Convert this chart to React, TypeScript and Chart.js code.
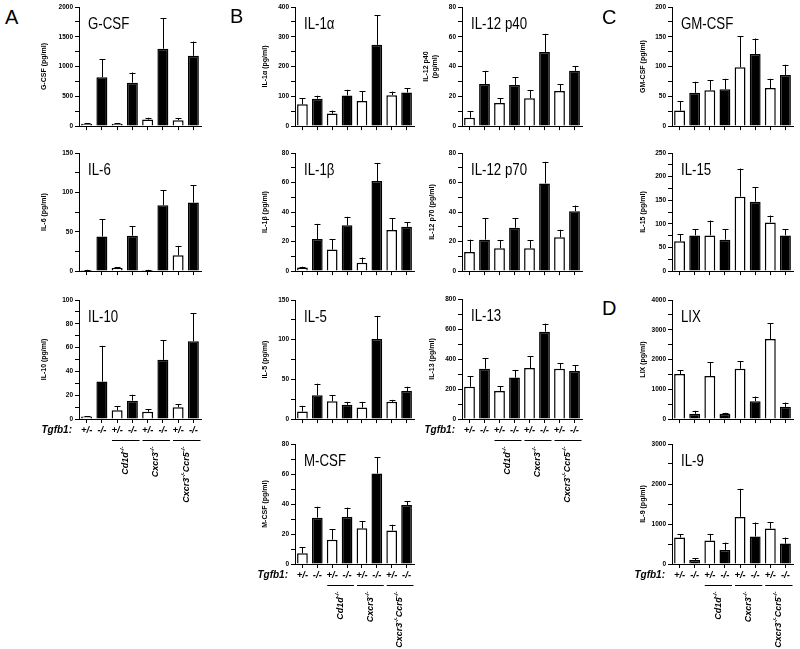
import React, { useEffect, useRef } from 'react';
import { Chart, registerables } from 'chart.js';

Chart.register(...registerables);

const FONT = "'Liberation Sans', Arial, Helvetica, sans-serif";
Chart.defaults.font.family = FONT;
Chart.defaults.color = '#000';

// ---------- data ----------
const genotypeLabels = ['+/-', '-/-', '+/-', '-/-', '+/-', '-/-', '+/-', '-/-'];
const groupStartIndex = [2, 4, 6];
const groupLabelParts: [string, boolean][][] = [
  [['Cd1d', false], ['-/-', true]],
  [['Cxcr3', false], ['-/-', true]],
  [['Cxcr3', false], ['-/-', true], ['Ccr5', false], ['-/-', true]],
];

const gcsfValues = [40, 820, 40, 730, 110, 1300, 100, 1180];
const gcsfErrors = [5, 300, 5, 170, 30, 510, 28, 240];
const il6Values = [1.5, 44, 4, 45, 1.5, 83.5, 20, 87];
const il6Errors = [0.3, 22, 1, 12, 0.3, 19.5, 12, 22];
const il10Values = [2, 31.5, 7.3, 15.4, 6.1, 49.7, 9.8, 65.4];
const il10Errors = [0.3, 30, 3.3, 5, 2.3, 16.3, 2.8, 23.4];
const il1aValues = [73, 92, 42, 103, 84, 273, 104, 113];
const il1aErrors = [20, 10, 10, 19, 33, 100, 12, 15];
const il1bValues = [2.5, 21.7, 14.6, 31, 5.6, 61, 27.8, 30];
const il1bErrors = [0.5, 10.3, 7.1, 5.8, 3.6, 12.3, 8.1, 3];
const il5Values = [9.6, 30, 22.5, 18, 14.6, 100.8, 21.7, 35.4];
const il5Errors = [7.1, 14.6, 7.9, 3.7, 7.1, 29.2, 2.5, 5.4];
const mcsfValues = [7.1, 30.9, 16.2, 31.3, 23.8, 60.4, 22.4, 39.3];
const mcsfErrors = [4, 7.3, 7.1, 6.3, 4.9, 10.9, 3.8, 2.7];
const il12p40Values = [5.6, 28.2, 15.6, 27.6, 18.7, 49.8, 23.6, 37.1];
const il12p40Errors = [4.4, 8.9, 3.1, 5.1, 5.3, 12.2, 4.6, 3.3];
const il12p70Values = [13, 21.3, 15.5, 29.4, 15.5, 59.4, 22.9, 40.6];
const il12p70Errors = [8.3, 14.6, 5.6, 6.5, 5.6, 14.6, 5.1, 3.8];
const il13Values = [215, 335, 187, 276, 340, 582, 335, 320];
const il13Errors = [69, 69, 31, 51, 78, 54, 38, 40];
const gmcsfValues = [26, 56, 60, 61.7, 98.9, 121, 63.9, 86];
const gmcsfErrors = [15.7, 18.4, 17.2, 17.7, 52, 26, 15.5, 17];
const il15Values = [63, 75.6, 75.6, 66.5, 157.6, 147, 103, 75.6];
const il15Errors = [15.4, 13.4, 31.4, 22.5, 59.4, 30, 14.6, 13.4];
const lixValues = [1511, 178, 1444, 178, 1689, 600, 2689, 411];
const lixErrors = [133, 100, 467, 33, 255, 156, 533, 145];
const il9Values = [660, 100, 585, 351, 1178, 685, 886, 510];
const il9Errors = [84, 42, 167, 184, 702, 351, 158, 150];

// ---------- layout ----------
type PanelCfg = {
  name: string;
  yTitle: string | string[];
  values: number[];
  errors: number[];
  max: number;
  major: number;
  minor: number;
  L: number;
  R: number;
  T: number;
  B: number;
  bottom: boolean;
  titlePad: number;
};

const colA = { L: 79, R: 201, titlePad: 1 };
const colB1 = { L: 295, R: 414, titlePad: 5.5 };
const colB2 = { L: 462, R: 582, titlePad: 5.5 };
const colC = { L: 672, R: 793, titlePad: 7 };
const row1 = { T: 7, B: 127 };
const row2 = { T: 153, B: 272 };
const row3 = { T: 300, B: 420 };
const row4 = { T: 444, B: 564 };

const panels: PanelCfg[] = [
  { name: 'G-CSF', yTitle: 'G-CSF (pg/ml)', values: gcsfValues, errors: gcsfErrors, max: 2000, major: 500, minor: 250, ...colA, ...row1, bottom: false },
  { name: 'IL-6', yTitle: 'IL-6 (pg/ml)', values: il6Values, errors: il6Errors, max: 150, major: 50, minor: 25, ...colA, ...row2, bottom: false },
  { name: 'IL-10', yTitle: 'IL-10 (pg/ml)', values: il10Values, errors: il10Errors, max: 100, major: 20, minor: 10, ...colA, T: 300, B: 419, bottom: true },
  { name: 'IL-1α', yTitle: 'IL-1α (pg/ml)', values: il1aValues, errors: il1aErrors, max: 400, major: 100, minor: 50, ...colB1, ...row1, bottom: false },
  { name: 'IL-1β', yTitle: 'IL-1β (pg/ml)', values: il1bValues, errors: il1bErrors, max: 80, major: 20, minor: 10, ...colB1, ...row2, bottom: false },
  { name: 'IL-5', yTitle: 'IL-5 (pg/ml)', values: il5Values, errors: il5Errors, max: 150, major: 50, minor: 25, ...colB1, ...row3, bottom: false },
  { name: 'M-CSF', yTitle: 'M-CSF (pg/ml)', values: mcsfValues, errors: mcsfErrors, max: 80, major: 20, minor: 10, ...colB1, ...row4, bottom: true },
  { name: 'IL-12 p40', yTitle: ['IL-12 p40', '(pg/ml)'], values: il12p40Values, errors: il12p40Errors, max: 80, major: 20, minor: 10, ...colB2, ...row1, bottom: false, titlePad: 0 },
  { name: 'IL-12 p70', yTitle: 'IL-12 p70 (pg/ml)', values: il12p70Values, errors: il12p70Errors, max: 80, major: 20, minor: 10, ...colB2, ...row2, bottom: false },
  { name: 'IL-13', yTitle: 'IL-13 (pg/ml)', values: il13Values, errors: il13Errors, max: 800, major: 200, minor: 100, ...colB2, T: 299, B: 419, bottom: true },
  { name: 'GM-CSF', yTitle: 'GM-CSF (pg/ml)', values: gmcsfValues, errors: gmcsfErrors, max: 200, major: 50, minor: 25, ...colC, ...row1, bottom: false },
  { name: 'IL-15', yTitle: 'IL-15 (pg/ml)', values: il15Values, errors: il15Errors, max: 250, major: 50, minor: 25, ...colC, ...row2, bottom: false },
  { name: 'LIX', yTitle: 'LIX (pg/ml)', values: lixValues, errors: lixErrors, max: 4000, major: 1000, minor: 500, ...colC, ...row3, bottom: false },
  { name: 'IL-9', yTitle: 'IL-9 (pg/ml)', values: il9Values, errors: il9Errors, max: 3000, major: 1000, minor: 500, ...colC, ...row4, bottom: true },
];

const Y_AXIS_W = 40;
const PAD_TOP = 10;
const PAD_RIGHT = 8;
const X_AXIS_H = 5;
const EXTRA_BOTTOM = 90;

function drawRotatedRich(ctx: CanvasRenderingContext2D, parts: [string, boolean][], cx: number, yEnd: number) {
  ctx.save();
  ctx.translate(cx, yEnd);
  ctx.rotate(-Math.PI / 2);
  const widths: number[] = [];
  let total = 0;
  parts.forEach(([t, sup]) => {
    ctx.font = `italic bold ${sup ? 6 : 9}px ${FONT}`;
    const w = ctx.measureText(t).width;
    widths.push(w);
    total += w;
  });
  let x = -total;
  ctx.textBaseline = 'alphabetic';
  ctx.textAlign = 'left';
  ctx.fillStyle = '#000';
  parts.forEach(([t, sup], i) => {
    ctx.font = `italic bold ${sup ? 6 : 9}px ${FONT}`;
    ctx.fillText(t, x, sup ? -0.8 : 3.2);
    x += widths[i];
  });
  ctx.restore();
}

function PanelChart({ p }: { p: PanelCfg }) {
  const ref = useRef<HTMLCanvasElement>(null);
  const extra = p.bottom ? EXTRA_BOTTOM : 0;
  const w = p.R - p.L + Y_AXIS_W + PAD_RIGHT;
  const h = p.B - p.T + PAD_TOP + X_AXIS_H + extra;

  useEffect(() => {
    const canvas = ref.current!;
    const extras = {
      id: 'panelExtras',
      afterDatasetsDraw(chart: any) {
        const ctx: CanvasRenderingContext2D = chart.ctx;
        const meta = chart.getDatasetMeta(0);
        const ys = chart.scales.y;
        ctx.save();
        ctx.strokeStyle = '#000';
        ctx.lineWidth = 1;
        meta.data.forEach((bar: any, i: number) => {
          const v = p.values[i];
          const e = p.errors[i];
          const x = Math.round(bar.x) + 0.5;
          const y0 = ys.getPixelForValue(v);
          const y1 = ys.getPixelForValue(v + e);
          ctx.beginPath();
          ctx.moveTo(x, y0);
          ctx.lineTo(x, y1);
          ctx.moveTo(x - 3, Math.round(y1) + 0.5);
          ctx.lineTo(x + 3, Math.round(y1) + 0.5);
          ctx.stroke();
        });
        ctx.restore();
      },
      afterDraw(chart: any) {
        const ctx: CanvasRenderingContext2D = chart.ctx;
        const area = chart.chartArea;
        const xs = chart.scales.x;
        ctx.save();
        ctx.fillStyle = '#000';
        // panel title
        ctx.translate(area.left + 9, area.top + 22);
        ctx.scale(0.78, 1);
        ctx.font = `17px ${FONT}`;
        ctx.textAlign = 'left';
        ctx.textBaseline = 'alphabetic';
        ctx.fillText(p.name, 0, 0);
        ctx.restore();

        if (p.bottom) {
          ctx.save();
          ctx.fillStyle = '#000';
          ctx.strokeStyle = '#000';
          const rowY = area.bottom + 11;
          ctx.font = `italic bold 10px ${FONT}`;
          ctx.textAlign = 'right';
          ctx.textBaseline = 'middle';
          ctx.fillText('Tgfb1:', area.left - 7, rowY);
          ctx.font = `italic bold 9.5px ${FONT}`;
          ctx.textAlign = 'center';
          genotypeLabels.forEach((lab, i) => {
            ctx.fillText(lab, xs.getPixelForValue(i), rowY);
          });
          const lineY = Math.round(area.bottom + 21) + 0.5;
          const step = xs.getPixelForValue(1) - xs.getPixelForValue(0);
          ctx.lineWidth = 1;
          groupStartIndex.forEach((s, gi) => {
            const c0 = xs.getPixelForValue(s);
            const c1 = xs.getPixelForValue(s + 1);
            ctx.beginPath();
            ctx.moveTo(c0 - step / 2 + 2.5, lineY);
            ctx.lineTo(c1 + step / 2 - 0.5, lineY);
            ctx.stroke();
            drawRotatedRich(ctx, groupLabelParts[gi], (c0 + c1) / 2, lineY + 6);
          });
          ctx.restore();
        }
      },
    };

    const chart = new Chart(canvas, {
      type: 'bar',
      data: {
        labels: genotypeLabels,
        datasets: [
          {
            data: p.values,
            backgroundColor: p.values.map((_, i) => (i % 2 === 0 ? '#ffffff' : '#000000')),
            borderColor: '#000',
            borderWidth: 1.5,
            barPercentage: 0.72,
            categoryPercentage: 1,
          },
        ],
      },
      options: {
        responsive: false,
        animation: false,
        events: [],
        layout: { padding: { top: PAD_TOP, left: 0, right: PAD_RIGHT, bottom: extra } },
        plugins: { legend: { display: false }, tooltip: { enabled: false } },
        scales: {
          x: {
            type: 'category',
            offset: true,
            grid: { display: true, drawOnChartArea: false, drawTicks: true, tickLength: 4, color: '#000', offset: false, lineWidth: 1 },
            border: { display: true, color: '#000', width: 1 },
            ticks: { display: false },
            afterFit: (s: any) => {
              s.height = X_AXIS_H;
            },
          },
          y: {
            min: 0,
            max: p.max,
            grid: { display: true, drawOnChartArea: false, drawTicks: true, tickLength: 4, color: '#000', lineWidth: 1 },
            border: { display: true, color: '#000', width: 1 },
            ticks: {
              stepSize: p.minor,
              autoSkip: false,
              padding: 2,
              color: '#000',
              font: { size: 6.5, weight: 'bold', family: FONT },
              callback: (v: any) => (Number(v) % p.major === 0 ? String(v) : ''),
            },
            title: {
              display: true,
              text: p.yTitle,
              color: '#000',
              font: { size: 7, weight: 'bold', family: FONT },
              padding: { top: p.titlePad, bottom: 0 },
            },
            afterFit: (s: any) => {
              s.width = Y_AXIS_W;
            },
          },
        },
      } as any,
      plugins: [extras as any],
    });
    return () => chart.destroy();
  }, []);

  return (
    <canvas
      ref={ref}
      width={w}
      height={h}
      style={{ position: 'absolute', left: p.L - Y_AXIS_W, top: p.T - PAD_TOP, width: w, height: h }}
    />
  );
}

const letterStyle: React.CSSProperties = {
  position: 'absolute',
  fontFamily: FONT,
  fontSize: 20,
  lineHeight: '20px',
  color: '#000',
};

export default function App() {
  return (
    <div
      style={{
        position: 'absolute',
        left: 0,
        top: 0,
        width: 800,
        height: 649,
        overflow: 'hidden',
        background: '#fff',
      }}
    >
      {panels.map((p) => (
        <PanelChart key={p.name} p={p} />
      ))}
      <div style={{ ...letterStyle, left: 5, top: 7.4 }}>A</div>
      <div style={{ ...letterStyle, left: 230, top: 6.4 }}>B</div>
      <div style={{ ...letterStyle, left: 602, top: 7.4 }}>C</div>
      <div style={{ ...letterStyle, left: 602, top: 298.4 }}>D</div>
    </div>
  );
}
